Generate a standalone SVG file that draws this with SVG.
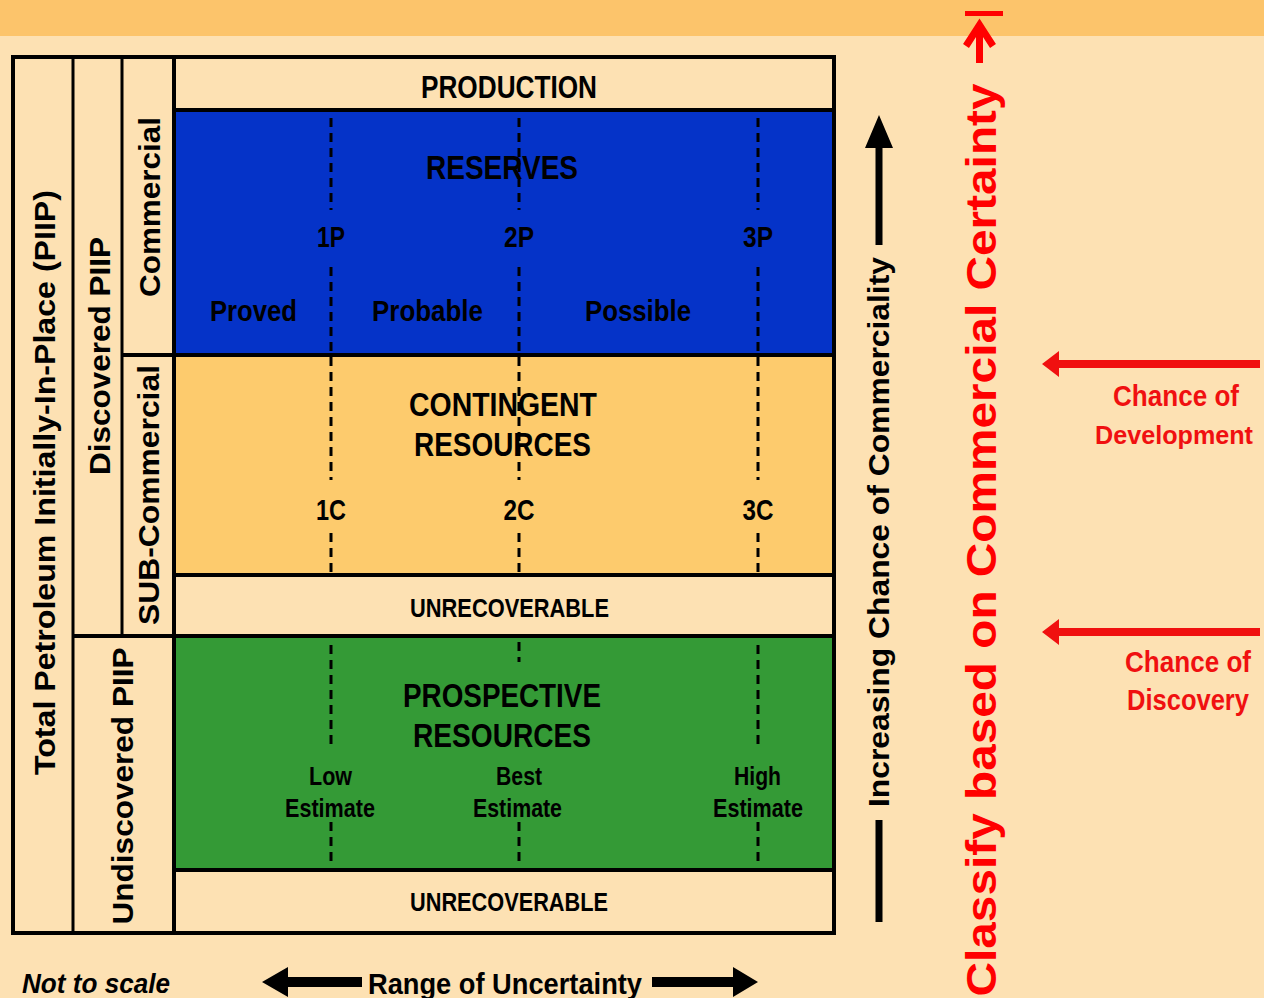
<svg xmlns="http://www.w3.org/2000/svg" width="1264" height="998" viewBox="0 0 1264 998">
<style>
.n{font-family:"Liberation Sans",Arial,sans-serif;font-weight:bold;fill:#000;text-anchor:middle}
.r{font-family:"Liberation Sans",Arial,sans-serif;font-weight:bold;fill:#000;text-anchor:middle;font-size:30px}
.red{fill:#F01010}
.ln{stroke:#000;stroke-width:4;fill:none}
.th{stroke:#000;stroke-width:3;fill:none}
.dash{stroke:#000;stroke-width:3;stroke-dasharray:9 6;fill:none}
</style>
<rect x="0" y="0" width="1264" height="998" fill="#FDE1B3"/>
<rect x="0" y="0" width="1264" height="36" fill="#FCC46B"/>

<g id="cells">
<rect id="reserves-fill" x="174" y="110" width="660" height="245" fill="#0533C8"/>
<rect id="contingent-fill" x="174" y="355" width="660" height="220" fill="#FDCB6D"/>
<rect id="prospective-fill" x="174" y="636" width="660" height="234" fill="#349A36"/>
</g>

<g id="grid">
<line class="th" x1="73" y1="56" x2="73" y2="933"/>
<line class="th" x1="122" y1="56" x2="122" y2="636"/>
<line class="ln" x1="174" y1="56" x2="174" y2="933"/>
<line class="ln" x1="174" y1="110" x2="834" y2="110"/>
<line class="ln" x1="122" y1="355" x2="834" y2="355"/>
<line class="ln" x1="174" y1="575" x2="834" y2="575"/>
<line class="ln" x1="73" y1="636" x2="834" y2="636"/>
<line class="ln" x1="174" y1="870" x2="834" y2="870"/>
<rect class="ln" x="13" y="57" width="821" height="876"/>
</g>

<g id="dashed-lines">
<path class="dash" d="M331 118V210M331 267V480M331 533V575M519 118V210M519 267V480M519 533V575M758 118V210M758 267V480M758 533V575"/>
<path class="dash" d="M331 645V750M331 822V866M519 642V662M519 822V866M758 645V750M758 822V866"/>
</g>

<g id="side-labels">
<text class="r" transform="translate(55,482.5) rotate(-90)" textLength="585" lengthAdjust="spacingAndGlyphs">Total Petroleum Initially-In-Place (PIIP)</text>
<text class="r" transform="translate(110,356) rotate(-90)" textLength="238" lengthAdjust="spacingAndGlyphs">Discovered PIIP</text>
<text class="r" transform="translate(160,207) rotate(-90)" textLength="180" lengthAdjust="spacingAndGlyphs">Commercial</text>
<text class="r" transform="translate(159,495) rotate(-90)" textLength="260" lengthAdjust="spacingAndGlyphs">SUB-Commercial</text>
<text class="r" transform="translate(133,786) rotate(-90)" textLength="277" lengthAdjust="spacingAndGlyphs">Undiscovered PIIP</text>
</g>

<g id="production">
<text class="n" x="509" y="98" font-size="32" textLength="176" lengthAdjust="spacingAndGlyphs">PRODUCTION</text>
</g>

<g id="reserves">
<text class="n" x="502" y="179" font-size="34" textLength="152" lengthAdjust="spacingAndGlyphs">RESERVES</text>
<text class="n" x="331" y="247" font-size="30" textLength="28" lengthAdjust="spacingAndGlyphs">1P</text>
<text class="n" x="519" y="247" font-size="30" textLength="30" lengthAdjust="spacingAndGlyphs">2P</text>
<text class="n" x="758" y="247" font-size="30" textLength="30" lengthAdjust="spacingAndGlyphs">3P</text>
<text class="n" x="253.5" y="321" font-size="30" textLength="87" lengthAdjust="spacingAndGlyphs">Proved</text>
<text class="n" x="427.5" y="321" font-size="30" textLength="111" lengthAdjust="spacingAndGlyphs">Probable</text>
<text class="n" x="638" y="321" font-size="30" textLength="106" lengthAdjust="spacingAndGlyphs">Possible</text>
</g>

<g id="contingent">
<text class="n" x="503" y="416" font-size="33" textLength="188" lengthAdjust="spacingAndGlyphs">CONTINGENT</text>
<text class="n" x="502.5" y="456" font-size="33" textLength="177" lengthAdjust="spacingAndGlyphs">RESOURCES</text>
<text class="n" x="331" y="520" font-size="30" textLength="30" lengthAdjust="spacingAndGlyphs">1C</text>
<text class="n" x="519" y="520" font-size="30" textLength="31" lengthAdjust="spacingAndGlyphs">2C</text>
<text class="n" x="758" y="520" font-size="30" textLength="31" lengthAdjust="spacingAndGlyphs">3C</text>
</g>

<g id="unrecoverable-1">
<text class="n" x="509.5" y="617" font-size="26" textLength="199" lengthAdjust="spacingAndGlyphs">UNRECOVERABLE</text>
</g>

<g id="prospective">
<text class="n" x="502" y="707" font-size="33" textLength="198" lengthAdjust="spacingAndGlyphs">PROSPECTIVE</text>
<text class="n" x="502" y="747" font-size="33" textLength="178" lengthAdjust="spacingAndGlyphs">RESOURCES</text>
<text class="n" x="330.5" y="785" font-size="26" textLength="43" lengthAdjust="spacingAndGlyphs">Low</text>
<text class="n" x="330" y="817" font-size="26" textLength="90" lengthAdjust="spacingAndGlyphs">Estimate</text>
<text class="n" x="519" y="785" font-size="26" textLength="46" lengthAdjust="spacingAndGlyphs">Best</text>
<text class="n" x="517.5" y="817" font-size="26" textLength="89" lengthAdjust="spacingAndGlyphs">Estimate</text>
<text class="n" x="757.5" y="785" font-size="26" textLength="47" lengthAdjust="spacingAndGlyphs">High</text>
<text class="n" x="758" y="817" font-size="26" textLength="90" lengthAdjust="spacingAndGlyphs">Estimate</text>
</g>

<g id="unrecoverable-2">
<text class="n" x="509" y="911" font-size="26" textLength="198" lengthAdjust="spacingAndGlyphs">UNRECOVERABLE</text>
</g>

<g id="connectors">
<polygon points="262,982 288,967 288,977 362,977 362,987 288,987 288,997" fill="#000"/>
<polygon points="758,982 733,967 733,977 652,977 652,987 733,987 733,997" fill="#000"/>
<polygon points="879,115 893,148 882.5,148 882.5,245 875.5,245 875.5,148 865,148" fill="#000"/>
<rect x="875.5" y="820" width="7" height="102" fill="#000"/>
<polygon points="1042,364 1059,351 1059,360 1260,360 1260,368 1059,368 1059,377" fill="#F01010"/>
<polygon points="1042,632 1059,619 1059,628 1260,628 1260,636 1059,636 1059,645" fill="#F01010"/>
<g stroke="#FF0000" stroke-width="7" fill="none">
<line x1="965" y1="13.5" x2="1003" y2="13.5" stroke-width="5"/>
<line x1="979.5" y1="25" x2="979.5" y2="63"/>
<polyline points="966,46 979.5,25 993,46"/>
</g>
</g>

<g id="bottom-labels">
<text x="22" y="993" font-family="Liberation Sans, Arial, sans-serif" font-weight="bold" font-style="italic" font-size="27" textLength="148" lengthAdjust="spacingAndGlyphs">Not to scale</text>
<text x="368" y="994" font-family="Liberation Sans, Arial, sans-serif" font-weight="bold" font-size="30" textLength="274" lengthAdjust="spacingAndGlyphs">Range of Uncertainty</text>
</g>

<g id="right-labels">
<text class="r" font-size="28" transform="translate(889,532) rotate(-90)" textLength="550" lengthAdjust="spacingAndGlyphs">Increasing Chance of Commerciality</text>
<text class="r" font-size="43" transform="translate(996,540) rotate(-90)" textLength="913" lengthAdjust="spacingAndGlyphs" style="fill:#FF0000;font-size:43px">Classify based on Commercial Certainty</text>
<text class="n red" x="1176" y="406" font-size="29" textLength="126" lengthAdjust="spacingAndGlyphs">Chance of</text>
<text class="n red" x="1174" y="444" font-size="26" textLength="158" lengthAdjust="spacingAndGlyphs">Development</text>
<text class="n red" x="1188" y="672" font-size="29" textLength="126" lengthAdjust="spacingAndGlyphs">Chance of</text>
<text class="n red" x="1188" y="710" font-size="29" textLength="122" lengthAdjust="spacingAndGlyphs">Discovery</text>
</g>
</svg>
